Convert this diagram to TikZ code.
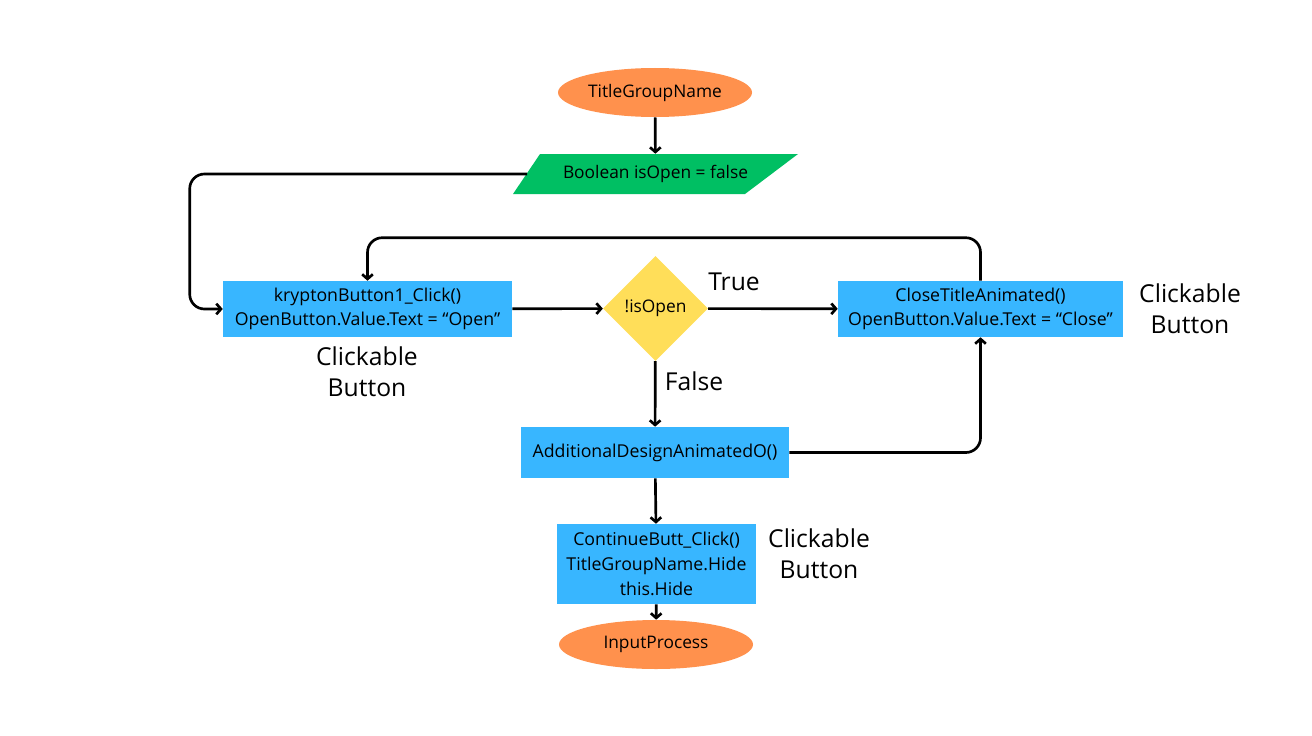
\documentclass[tikz,border=0pt]{standalone}
\usepackage{fontspec}
\setmainfont{Open Sans}
\usetikzlibrary{arrows.meta, positioning, shapes.geometric}
\definecolor{termorange}{HTML}{FF914D}
\definecolor{procblue}{HTML}{38B6FF}
\definecolor{datagreen}{HTML}{00BF63}
\definecolor{decyellow}{HTML}{FFDE59}
\newcommand{\pxu}{0.75pt}

\tikzset{
    terminal/.style={ellipse, fill=termorange, inner sep=0pt, minimum width=194*\pxu, minimum height=49*\pxu, font=\fontsize{13}{15}\selectfont},
    process/.style={rectangle, fill=procblue, inner sep=0pt, align=center, font=\fontsize{13.3}{18.5}\selectfont},
    decision/.style={diamond, fill=decyellow, inner sep=0pt, minimum width=105*\pxu, minimum height=105*\pxu, font=\fontsize{13}{15}\selectfont},
    iotext/.style={inner sep=0pt, minimum height=40*\pxu, font=\fontsize{13}{15}\selectfont},
    note/.style={align=center, font=\fontsize{18.5}{23.5}\selectfont},
    flow/.style={draw, line width=2pt, -{Straight Barb[length=3.5pt, width=8pt]}},
}

\begin{document}
\begin{tikzpicture}[x=0.75pt, y=-0.75pt]
    \useasboundingbox[fill=white] (0,0) rectangle (1312,735);

    % Start / end
    \node[terminal] (title) at (655,92.5) {TitleGroupName};
    \node[terminal] (input) at (656,644.5) {InputProcess};

    % Data (slanted box)
    \fill[datagreen] (540,154) -- (798,154) -- (745,194) -- (513,194) -- cycle;
    \node[iotext] (isopen) at (655.5,174) {Boolean isOpen = false};
    \coordinate (isopenleft) at (527,174);

    % Processes
    \node[process, minimum width=289*\pxu, minimum height=56*\pxu] (krypton) at (367.5,309)
        {kryptonButton1\_Click()\\OpenButton.Value.Text = “Open”};
    \node[process, minimum width=285*\pxu, minimum height=56*\pxu] (closetitle) at (980.5,309)
        {CloseTitleAnimated()\\OpenButton.Value.Text = “Close”};
    \node[process, minimum width=268*\pxu, minimum height=51*\pxu] (additional) at (655,452.5)
        {AdditionalDesignAnimatedO()};
    \node[process, minimum width=199*\pxu, minimum height=80*\pxu] (continue) at (656.5,564)
        {ContinueButt\_Click()\\TitleGroupName.Hide\\this.Hide};

    % Decision
    \node[decision] (notopen) at (655.5,308.5) {!isOpen};

    % Labels
    \node[note] (truelbl) at (734,282) {True};
    \node[note] (falselbl) at (694,381) {False};
    \node[note] (clickA) at (367,372) {Clickable\\Button};
    \node[note] (clickB) at (1190,309) {Clickable\\Button};
    \node[note] (clickC) at (819,554) {Clickable\\Button};

    % Connectors
    \draw[flow] (title) -- (isopen);
    \draw[flow, rounded corners=11pt] (isopenleft) -| ([xshift=-33*\pxu]krypton.west) -- (krypton.west);
    \draw[flow] (krypton) -- (notopen);
    \draw[flow] (notopen) -- (closetitle);
    \draw[flow, rounded corners=11pt] (closetitle.north) -- ++(0,-43) -| (krypton.north);
    \draw[flow] (notopen) -- (additional);
    \draw[flow, rounded corners=11pt] (additional.east) -| (closetitle.south);
    \draw[flow] (additional) -- (continue);
    \draw[flow] (continue) -- (input);

\end{tikzpicture}
\end{document}
